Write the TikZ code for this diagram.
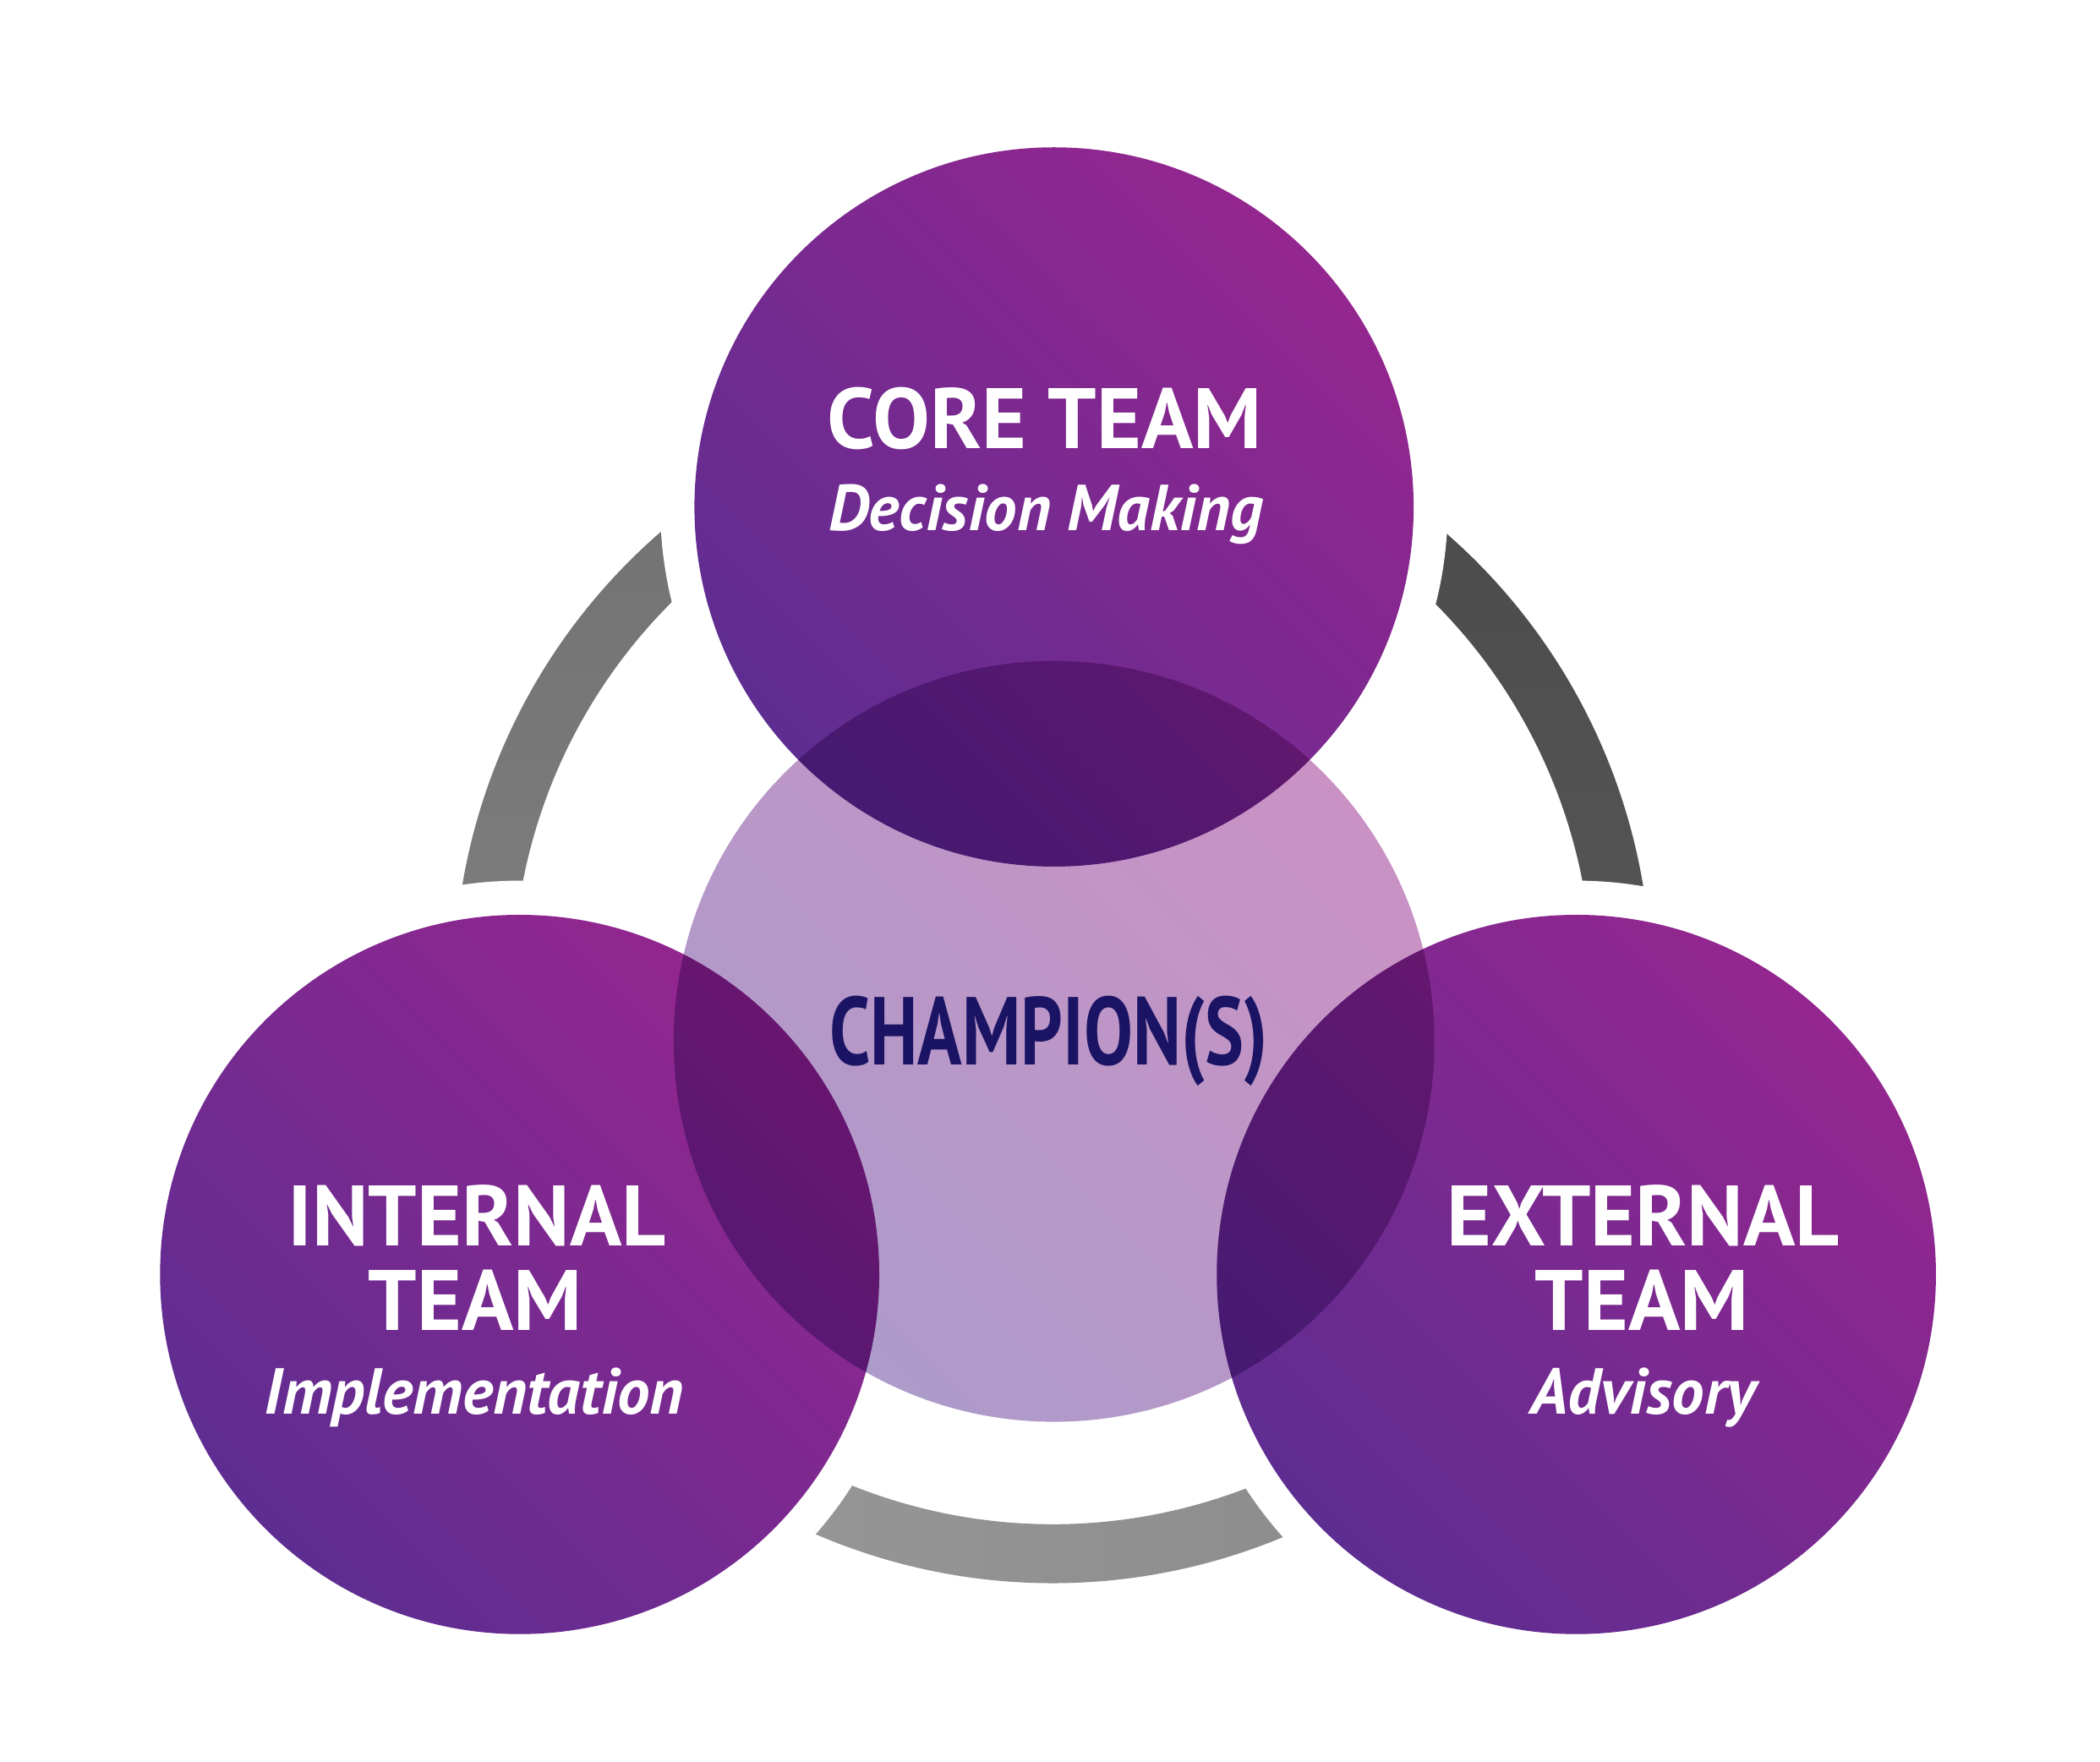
\documentclass[tikz,border=0pt]{standalone}
\usepackage{fontspec}
\setmainfont{PT Sans}
\newfontfamily\champfont[FakeStretch=0.76]{PT Sans}
\usetikzlibrary{positioning}
\definecolor{teamtop}{HTML}{94268F}
\definecolor{teambot}{HTML}{5E2D91}
\definecolor{champtop}{HTML}{CA92C4}
\definecolor{champbot}{HTML}{AC9BCA}
\definecolor{champtext}{HTML}{1B1464}
\begin{document}
\begin{tikzpicture}[x=1pt,y=1pt,
  team/.style={circle,minimum size=537pt,inner sep=0pt,outer sep=0pt,top color=teamtop,bottom color=teambot,shading angle=-45},
  halo/.style={circle,fill=white,minimum size=588pt,inner sep=0pt,outer sep=0pt},
  champ/.style={circle,minimum size=568pt,inner sep=0pt,outer sep=0pt,top color=champtop,bottom color=champbot,shading angle=-45},
  head/.style={text=white,font=\fontsize{64}{64}\selectfont\bfseries,anchor=base,inner sep=0pt},
  sub/.style={text=white,font=\fontsize{48.5}{48.5}\selectfont\bfseries\itshape,anchor=base,inner sep=0pt}
]
  \useasboundingbox[fill=white] (0,0) rectangle (1568,1315);
  \coordinate (ringc) at (786,580);
  % grey ring, three pieces
  \shade[top color=black!56,bottom color=black!49] ([shift={(100:447pt)}]ringc) arc[start angle=100,end angle=200,radius=447pt]
    -- ([shift={(200:403pt)}]ringc) arc[start angle=200,end angle=100,radius=403pt] -- cycle;
  \shade[top color=black!71,bottom color=black!65] ([shift={(-20:447pt)}]ringc) arc[start angle=-20,end angle=80,radius=447pt]
    -- ([shift={(80:403pt)}]ringc) arc[start angle=80,end angle=-20,radius=403pt] -- cycle;
  \shade[left color=black!40,right color=black!46] ([shift={(220:447pt)}]ringc) arc[start angle=220,end angle=320,radius=447pt]
    -- ([shift={(320:403pt)}]ringc) arc[start angle=320,end angle=220,radius=403pt] -- cycle;
  % white gaps round the teams
  \node[halo] (corehalo) at (787,936.5) {};
  \node[halo] (inthalo) at (388,363.5) {};
  \node[halo] (exthalo) at (1177,363.5) {};
  \node[champ] (champ) at (787,537.5) {};
  \begin{scope}[blend mode=multiply]
    \node[team] (core) at (787,936.5) {};
    \node[team] (internal) at (388,363.5) {};
    \node[team] (external) at (1177,363.5) {};
  \end{scope}
  % labels
  \node[head] (coretitle) at (780,980) {CORE TEAM};
  \node[sub] (coresub) at (781,919) {Decision Making};
  \node[head] (inttitle) at (356,385) {INTERNAL};
  \node[head] (intteam) at (355,322) {TEAM};
  \node[sub] (intsub) at (354,259) {Implementation};
  \node[head] (exttitle) at (1227,385) {EXTERNAL};
  \node[head] (extteam) at (1226,322) {TEAM};
  \node[sub] (extsub) at (1227,259) {Advisory};
  \node[anchor=base,inner sep=0pt,text=champtext,font=\fontsize{72}{72}\selectfont\champfont\bfseries] (champtitle) at (783,520) {CHAMPION(S)};
\end{tikzpicture}
\end{document}
